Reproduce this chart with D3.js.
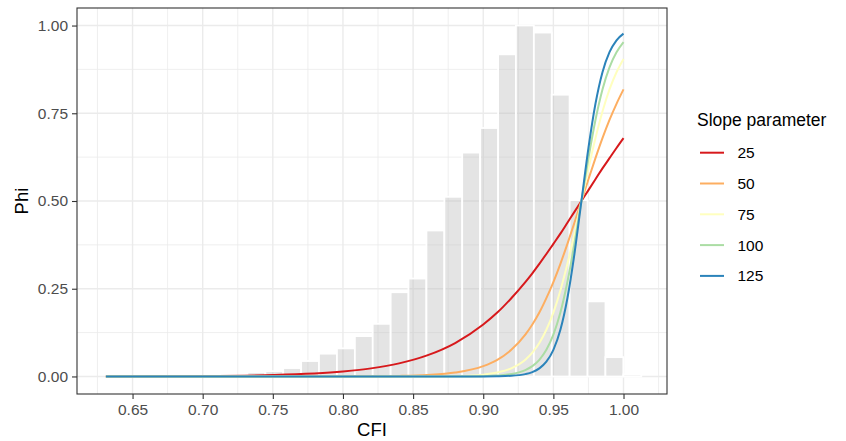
<!DOCTYPE html>
<html>
<head>
<meta charset="utf-8">
<script src="https://cdn.jsdelivr.net/npm/d3@7"></script>
<style>
  body { margin: 0; background: #fff; }
  text { font-family: "Liberation Sans", Arial, sans-serif; }
</style>
</head>
<body>
<div id="chart"></div>
<script>
// histogram of CFI (scaled so the tallest bin = 1)
var binLeft = [0.7319, 0.7447, 0.7574, 0.7702, 0.7829, 0.7957, 0.8085, 0.8212, 0.8340, 0.8467, 0.8595,
               0.8723, 0.8850, 0.8978, 0.9106, 0.9233, 0.9361, 0.9488, 0.9616, 0.9744, 0.9871, 0.9999];
var binWidth = 0.01276;
var binHeight = [0.012, 0.015, 0.024, 0.044, 0.065, 0.080, 0.115, 0.150, 0.240, 0.279, 0.416,
                 0.512, 0.638, 0.708, 0.918, 1.000, 0.980, 0.803, 0.502, 0.214, 0.055, 0.006];

// curves
var cfi = [0.631, 0.70, 0.75, 0.80, 0.82, 0.84, 0.86, 0.88, 0.90, 0.91, 0.92, 0.93, 0.935, 0.94, 0.945,
           0.95, 0.955, 0.96, 0.965, 0.97, 0.975, 0.98, 0.985, 0.99, 0.995, 1.00];
var phi25  = [0.0002, 0.0012, 0.0041, 0.0141, 0.023, 0.0373, 0.0601, 0.0953, 0.148, 0.182, 0.223, 0.269, 0.294, 0.321, 0.349,
              0.378, 0.407, 0.438, 0.469, 0.5, 0.531, 0.562, 0.593, 0.622, 0.651, 0.679];
var phi50  = [0, 0, 0, 0.0002, 0.0006, 0.0015, 0.0041, 0.011, 0.0293, 0.0474, 0.0759, 0.119, 0.148, 0.182, 0.223,
              0.269, 0.321, 0.378, 0.438, 0.5, 0.562, 0.622, 0.679, 0.731, 0.777, 0.818];
var phi75  = [0, 0, 0, 0, 0, 0.0001, 0.0003, 0.0012, 0.0052, 0.011, 0.023, 0.0474, 0.0676, 0.0953, 0.133,
              0.182, 0.245, 0.321, 0.407, 0.5, 0.593, 0.679, 0.755, 0.818, 0.867, 0.905];
var phi100 = [0, 0, 0, 0, 0, 0, 0, 0.0001, 0.0009, 0.0025, 0.0067, 0.018, 0.0293, 0.0474, 0.076,
              0.119, 0.182, 0.269, 0.378, 0.5, 0.622, 0.731, 0.818, 0.881, 0.924, 0.953];
var phi125 = [0, 0, 0, 0, 0, 0, 0, 0, 0.0002, 0.0006, 0.0019, 0.0067, 0.0124, 0.023, 0.042,
              0.076, 0.133, 0.223, 0.349, 0.5, 0.651, 0.777, 0.867, 0.924, 0.958, 0.977];

var slopes = ["25", "50", "75", "100", "125"];
var colors = ["#d7191c", "#fdae61", "#ffffbf", "#abdda4", "#2b83ba"];
var series = [phi25, phi50, phi75, phi100, phi125];

var xTicks = [0.65, 0.70, 0.75, 0.80, 0.85, 0.90, 0.95, 1.00];
var xMinor = [0.625, 0.675, 0.725, 0.775, 0.825, 0.875, 0.925, 0.975, 1.025];
var yTicks = [0, 0.25, 0.5, 0.75, 1];
var yMinor = [0.125, 0.375, 0.625, 0.875];

var width = 846, height = 441;
var panel = {left: 77, right: 667, top: 8, bottom: 394};

var x = d3.scaleLinear().domain([0.6104, 1.031]).range([panel.left, panel.right]);
var y = d3.scaleLinear().domain([-0.05, 1.05]).range([panel.bottom, panel.top]);

var svg = d3.select("#chart").append("svg")
    .attr("width", width)
    .attr("height", height);

svg.append("rect").attr("width", width).attr("height", height).attr("fill", "#fff");

// grid
var grid = svg.append("g");
grid.selectAll(".xminor").data(xMinor).enter().append("line")
    .attr("x1", d => x(d)).attr("x2", d => x(d))
    .attr("y1", panel.top).attr("y2", panel.bottom)
    .attr("stroke", "#ebebeb").attr("stroke-width", 0.8);
grid.selectAll(".yminor").data(yMinor).enter().append("line")
    .attr("y1", d => y(d)).attr("y2", d => y(d))
    .attr("x1", panel.left).attr("x2", panel.right)
    .attr("stroke", "#ebebeb").attr("stroke-width", 0.8);
grid.selectAll(".xmajor").data(xTicks).enter().append("line")
    .attr("x1", d => x(d)).attr("x2", d => x(d))
    .attr("y1", panel.top).attr("y2", panel.bottom)
    .attr("stroke", "#ebebeb").attr("stroke-width", 1.4);
grid.selectAll(".ymajor").data(yTicks).enter().append("line")
    .attr("y1", d => y(d)).attr("y2", d => y(d))
    .attr("x1", panel.left).attr("x2", panel.right)
    .attr("stroke", "#ebebeb").attr("stroke-width", 1.4);

// histogram
svg.append("g").selectAll("rect")
    .data(binLeft)
    .enter().append("rect")
    .attr("x", d => x(d))
    .attr("width", x(binWidth) - x(0))
    .attr("y", (d, i) => y(binHeight[i]))
    .attr("height", (d, i) => y(0) - y(binHeight[i]))
    .attr("fill", "#bebebe")
    .attr("fill-opacity", 0.42)
    .attr("stroke", "#fff")
    .attr("stroke-width", 1.8);

// curves
var line = d3.line()
    .x((d, i) => x(cfi[i]))
    .y(d => y(d))
    .curve(d3.curveMonotoneX);

svg.append("g").selectAll("path")
    .data(series)
    .enter().append("path")
    .attr("d", line)
    .attr("fill", "none")
    .attr("stroke", (d, i) => colors[i])
    .attr("stroke-width", 2);

// panel border
svg.append("rect")
    .attr("x", panel.left).attr("y", panel.top)
    .attr("width", panel.right - panel.left)
    .attr("height", panel.bottom - panel.top)
    .attr("fill", "none").attr("stroke", "#333").attr("stroke-width", 1.1);

// axes
var xAxis = svg.append("g")
    .attr("transform", "translate(0," + panel.bottom + ")")
    .call(d3.axisBottom(x).tickValues(xTicks).tickFormat(d3.format(".2f")).tickSize(5).tickPadding(5));
var yAxis = svg.append("g")
    .attr("transform", "translate(" + panel.left + ",0)")
    .call(d3.axisLeft(y).tickValues(yTicks).tickFormat(d3.format(".2f")).tickSize(5).tickPadding(4));

[xAxis, yAxis].forEach(function(a) {
    a.select(".domain").remove();
    a.selectAll(".tick line").attr("stroke", "#333").attr("stroke-width", 1.1);
    a.selectAll(".tick text")
        .attr("fill", "#4d4d4d")
        .style("font-size", "15.5px")
        .style("font-family", "'Liberation Sans', Arial, sans-serif");
});

svg.append("text")
    .attr("x", (panel.left + panel.right) / 2)
    .attr("y", 436)
    .attr("text-anchor", "middle")
    .style("font-size", "18.5px")
    .text("CFI");

svg.append("text")
    .attr("transform", "translate(28," + ((panel.top + panel.bottom) / 2) + ") rotate(-90)")
    .attr("text-anchor", "middle")
    .style("font-size", "18.5px")
    .text("Phi");

// legend
var legend = svg.append("g");
legend.append("text")
    .attr("x", 697).attr("y", 126)
    .style("font-size", "17.5px")
    .text("Slope parameter");

var items = legend.selectAll(".item")
    .data(slopes)
    .enter().append("g")
    .attr("transform", (d, i) => "translate(0," + (152.7 + i * 30.8) + ")");
items.append("line")
    .attr("x1", 700).attr("x2", 724)
    .attr("stroke", (d, i) => colors[i])
    .attr("stroke-width", 2);
items.append("text")
    .attr("x", 737.5).attr("y", 5.5)
    .style("font-size", "15.5px")
    .text(d => d);
</script>
</body>
</html>
